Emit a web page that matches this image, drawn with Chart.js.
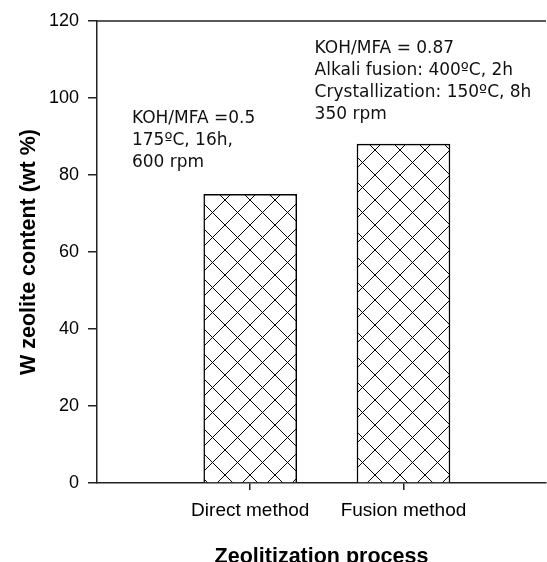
<!DOCTYPE html>
<html>
<head>
<meta charset="utf-8">
<script src="https://cdn.jsdelivr.net/npm/chart.js@4"></script>
<style>
    html, body { margin: 0; padding: 0; background: #fff; }
    #wrap { width: 547px; height: 562px; }
</style>
</head>
<body>
<div id="wrap"><canvas id="zeoChart" width="547" height="562"></canvas></div>
<script>
// Data
const categories = ['Direct method', 'Fusion method'];
const categoryPos = [1, 2];
const zeoliteContent = [75, 88];
const yTicks = [0, 20, 40, 60, 80, 100, 120];

const noteDirect = ['KOH/MFA =0.5', '175ºC, 16h,', '600 rpm'];
const noteFusion = ['KOH/MFA = 0.87', 'Alkali fusion: 400ºC, 2h', 'Crystallization: 150ºC, 8h', '350 rpm'];

// Crosshatch pattern
function makeHatch() {
    const size = 25;
    const c = document.createElement('canvas');
    c.width = size;
    c.height = size;
    const g = c.getContext('2d');
    g.fillStyle = '#fff';
    g.fillRect(0, 0, size, size);
    g.strokeStyle = '#000';
    g.lineWidth = 1;
    g.beginPath();
    g.moveTo(0, 0); g.lineTo(size, size);
    g.moveTo(size, 0); g.lineTo(0, size);
    g.stroke();
    return g.createPattern(c, 'repeat');
}

// Annotations + top line
const notesPlugin = {
    id: 'notes',
    afterDraw(chart) {
        const ctx = chart.ctx;
        const xs = chart.scales.x;
        const ys = chart.scales.y;
        const area = chart.chartArea;

        ctx.save();
        ctx.strokeStyle = '#222';
        ctx.lineWidth = 1.5;
        ctx.beginPath();
        ctx.moveTo(area.left, area.top);
        ctx.lineTo(area.right, area.top);
        ctx.stroke();

        ctx.fillStyle = '#111';
        ctx.font = '17px "DejaVu Sans", Verdana, sans-serif';
        ctx.textBaseline = 'middle';
        ctx.textAlign = 'left';
        const drawNote = (lines, xv, yv) => {
            const x = xs.getPixelForValue(xv);
            const y = ys.getPixelForValue(yv);
            lines.forEach((t, i) => ctx.fillText(t, x, y + i * 22));
        };
        drawNote(noteDirect, 0.228, 94.6);
        drawNote(noteFusion, 1.42, 112.8);
        ctx.restore();
    }
};

const ctx = document.getElementById('zeoChart').getContext('2d');
new Chart(ctx, {
    type: 'bar',
    data: {
        datasets: [{
            data: categoryPos.map((x, i) => ({ x: x, y: zeoliteContent[i] })),
            backgroundColor: makeHatch(),
            borderColor: '#000',
            borderWidth: 1.5,
            barThickness: 93
        }]
    },
    options: {
        responsive: false,
        animation: false,
        layout: { padding: { top: 21, right: 1, left: 0, bottom: 0 } },
        plugins: { legend: { display: false }, tooltip: { enabled: false } },
        scales: {
            x: {
                type: 'linear',
                min: 0,
                max: 2.93,
                offset: false,
                grid: { offset: false, drawOnChartArea: false, drawTicks: true, tickLength: 7, color: '#222', lineWidth: 1.5 },
                border: { color: '#222', width: 1.5 },
                afterBuildTicks: (scale) => { scale.ticks = categoryPos.map(v => ({ value: v })); },
                afterFit: (scale) => { scale.height = 79; },
                ticks: {
                    autoSkip: false,
                    maxRotation: 0,
                    padding: 9,
                    color: '#000',
                    font: { family: '"Liberation Sans", Arial, sans-serif', size: 19 },
                    callback: (v) => categories[categoryPos.indexOf(v)] || ''
                },
                title: {
                    display: true,
                    text: 'Zeolitization process',
                    color: '#000',
                    padding: 0,
                    font: { family: '"Liberation Sans", Arial, sans-serif', size: 21.5, weight: 'bold', lineHeight: 0.45 }
                }
            },
            y: {
                min: 0,
                max: 120,
                grid: { drawOnChartArea: false, drawTicks: true, tickLength: 9, color: '#222', lineWidth: 1.5 },
                border: { color: '#222', width: 1.5 },
                afterBuildTicks: (scale) => { scale.ticks = yTicks.map(v => ({ value: v })); },
                afterFit: (scale) => { scale.width = 97; },
                ticks: {
                    padding: 9,
                    color: '#000',
                    font: { family: '"Liberation Sans", Arial, sans-serif', size: 18 }
                },
                title: {
                    display: true,
                    text: 'W zeolite content (wt %)',
                    color: '#000',
                    padding: { top: 16, bottom: 0 },
                    font: { family: '"Liberation Sans", Arial, sans-serif', size: 21.5, weight: 'bold', lineHeight: 1.2 }
                }
            }
        }
    },
    plugins: [notesPlugin]
});
</script>
</body>
</html>
